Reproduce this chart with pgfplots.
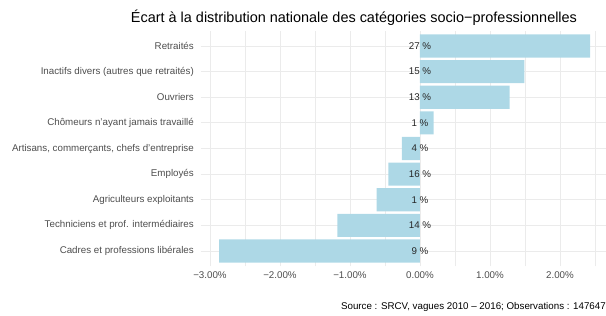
\documentclass[border=0pt]{standalone}
\usepackage{pgfplots}
\pgfplotsset{compat=1.18}
\usepackage{fontspec}
\setmainfont{Liberation Sans}
\definecolor{barblue}{HTML}{ADD8E6}
\definecolor{axtext}{HTML}{4D4D4D}
\definecolor{gridc}{HTML}{EBEBEB}
\begin{document}
\begin{tikzpicture}[x=1bp,y=1bp]
\useasboundingbox (0,0) rectangle (606,315);
\begin{axis}[
  at={(200.5bp,48.6bp)}, anchor=south west,
  scale only axis, width=405.5bp, height=235.8bp,
  xmin=-3.135, xmax=2.657, ymin=0.4, ymax=9.6,
  axis line style={draw=none},
  major tick style={draw=none}, minor tick style={draw=none},
  xtick={-3,-2,-1,0,1,2},
  xticklabels={−3.00\%,−2.00\%,−1.00\%,0.00\%,1.00\%,2.00\%},
  minor xtick={-2.5,-1.5,-0.5,0.5,1.5,2.5},
  ytick={1,2,3,4,5,6,7,8,9},
  yticklabels={Cadres et professions libérales,Techniciens et prof. intermédiaires,Agriculteurs exploitants,Employés,{Artisans, commerçants, chefs d’entreprise},Chômeurs n’ayant jamais travaillé,Ouvriers,Inactifs divers (autres que retraités),Retraités},
  grid=both,
  major grid style={draw=gridc, line width=0.9bp},
  minor grid style={draw=gridc, line width=0.45bp},
  ticklabel style={font=\fontsize{9.8}{11}\selectfont, text=axtext, inner sep=0pt},
  yticklabel style={xshift=-6.5bp},
  xticklabel style={yshift=-5bp},
  clip=false,
]
\addplot[xbar, bar width=0.9, bar shift=0pt, fill=barblue, draw=none]
  coordinates {(-2.87,1) (-1.18,2) (-0.62,3) (-0.45,4) (-0.257,5) (0.195,6) (1.28,7) (1.49,8) (2.43,9)};
\addplot[draw=none, mark=none, nodes near coords, point meta=explicit symbolic,
  nodes near coords style={anchor=center, font=\fontsize{9.8}{11}\selectfont, text=black!85, inner sep=0pt}]
  coordinates {(0,1) [9 \%] (0,2) [14 \%] (0,3) [1 \%] (0,4) [16 \%] (0,5) [4 \%] (0,6) [1 \%] (0,7) [13 \%] (0,8) [15 \%] (0,9) [27 \%]};
\end{axis}
\node[font=\fontsize{14.5}{16}\selectfont, anchor=center] at (354,297.5) {Écart à la distribution nationale des catégories socio−professionnelles};
\node[font=\fontsize{9.8}{11}\selectfont, anchor=east, inner sep=0pt] at (606,8.5) {Source : SRCV, vagues 2010 – 2016; Observations : 147647};
\end{tikzpicture}
\end{document}
